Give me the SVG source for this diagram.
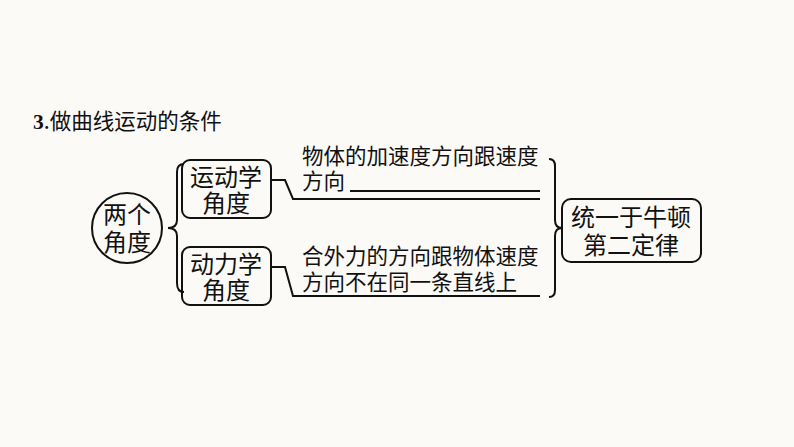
<svg xmlns="http://www.w3.org/2000/svg" width="794" height="447" viewBox="0 0 794 447">
<style>
text{font-family:"Noto Sans CJK SC","Liberation Sans",sans-serif;fill:#111;font-size:21.5px}
.big{font-size:24px}
.box{fill:none;stroke:#111;stroke-width:2}
.ln{fill:none;stroke:#111;stroke-width:2}
</style>
<rect width="794" height="447" fill="#fcfaf6"/>
<text x="33" y="129" font-size="21.5"><tspan font-family="Liberation Serif,serif" font-weight="bold">3</tspan>.做曲线运动的条件</text>
<g id="root"><circle cx="127" cy="228" r="35" class="box"/>
<text class="big" x="127" y="223" text-anchor="middle">两个</text><text class="big" x="127" y="251" text-anchor="middle">角度</text></g>
<g id="kin"><rect x="182" y="160" width="89" height="58" rx="8" class="box"/>
<text class="big" x="226" y="186" text-anchor="middle">运动学</text><text class="big" x="226" y="212" text-anchor="middle">角度</text></g>
<g id="dyn"><rect x="182" y="247" width="89" height="58" rx="8" class="box"/>
<text class="big" x="226" y="273" text-anchor="middle">动力学</text><text class="big" x="226" y="299" text-anchor="middle">角度</text></g>
<g id="t1"><text x="302" y="164">物体的加速度方向跟速度</text><text x="302" y="189">方向</text></g>
<g id="t2"><text x="302" y="264">合外力的方向跟物体速度</text><text x="302" y="290">方向不在同一条直线上</text></g>
<g id="res"><rect x="562" y="199" width="139" height="63" rx="9" class="box"/>
<text class="big" x="631" y="226" text-anchor="middle" font-size="25">统一于牛顿</text><text class="big" x="631" y="254" text-anchor="middle" font-size="25">第二定律</text></g>
<g id="connectors">
<path class="ln" d="M184 164 Q177 164 177 172 V220 Q177 228 168 228 Q177 228 177 236 V283 Q177 292 184 292"/>
<path class="ln" d="M271 180 H285 L293 199 H540"/>
<line class="ln" x1="350" y1="191" x2="540" y2="191"/>
<path class="ln" d="M271 267 H285 L293 296 H540"/>
<path class="ln" d="M549 159 Q555 159 555 166 V220 Q555 228 562 228 Q555 228 555 236 V290 Q555 297 549 297"/>
</g>
</svg>
